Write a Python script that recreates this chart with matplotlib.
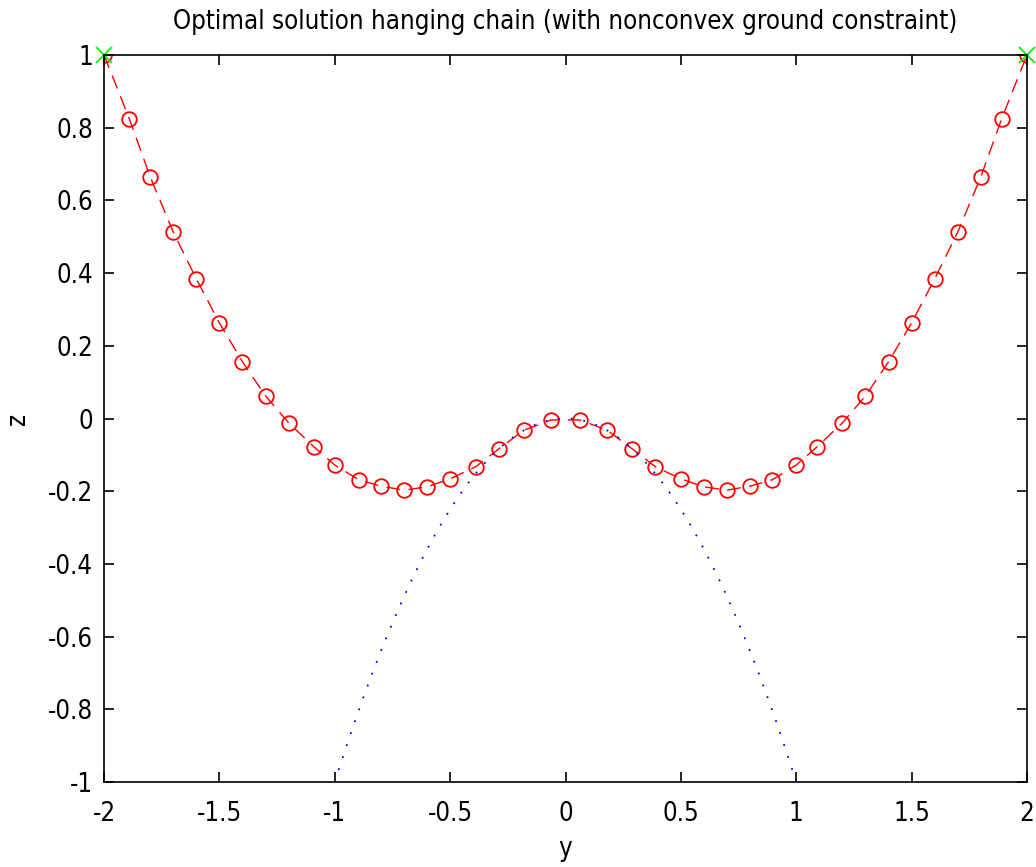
import matplotlib
matplotlib.use('Agg')
import matplotlib.pyplot as plt
import numpy as np

plt.rcParams['font.family'] = ['DejaVu Sans']
plt.rcParams['font.stretch'] = 'condensed'

# chain node positions, left half, mirrored for the right
y_left = [-2.0, -1.89, -1.80, -1.70, -1.60, -1.50, -1.40, -1.30, -1.20, -1.09,
          -1.00, -0.895, -0.80, -0.70, -0.60, -0.50, -0.39, -0.29, -0.18, -0.062]
z_left = [1.0, 0.824, 0.665, 0.513, 0.384, 0.263, 0.156, 0.062, -0.012, -0.078,
          -0.128, -0.169, -0.186, -0.197, -0.188, -0.166, -0.133, -0.084, -0.032, -0.004]
y_chain = y_left + [-v for v in reversed(y_left)]
z_chain = z_left + list(reversed(z_left))

# fixed end points
y_ends = [-2, 2]
z_ends = [1, 1]

# ground constraint z >= -y^2
y_ground = np.linspace(-1, 1, 101)
z_ground = -y_ground ** 2

xticks = [-2, -1.5, -1, -0.5, 0, 0.5, 1, 1.5, 2]
xtick_labels = ['-2', '-1.5', '-1', '-0.5', '0', '0.5', '1', '1.5', '2']
yticks = [-1, -0.8, -0.6, -0.4, -0.2, 0, 0.2, 0.4, 0.6, 0.8, 1]
ytick_labels = ['-1', '-0.8', '-0.6', '-0.4', '-0.2', '0', '0.2', '0.4', '0.6', '0.8', '1']

fig = plt.figure(figsize=(10.36, 8.67), dpi=100)
ax = fig.add_axes([0.1004, 0.098, 0.8909, 0.8386])

ax.plot(y_chain, z_chain, 'r--', lw=1.0, dashes=(10, 6))
ax.plot(y_chain, z_chain, 'o', mfc='none', mec='red', ms=10.5, mew=1.3)
ax.plot(y_ends, z_ends, 'x', color='#00ee00', ms=12, mew=1.2, clip_on=False)
ax.plot(y_ground, z_ground, ':', color='blue', lw=1.3, dashes=(1, 6))

ax.set_xlim(-2, 2)
ax.set_ylim(-1, 1)
ax.set_xticks(xticks)
ax.set_xticklabels(xtick_labels)
ax.set_yticks(yticks)
ax.set_yticklabels(ytick_labels)
ax.tick_params(direction='in', top=True, right=True, length=7, width=1.2,
               labelsize=18.5)
ax.tick_params(axis='x', pad=14)
ax.tick_params(axis='y', pad=8)
for s in ax.spines.values():
    s.set_linewidth(1.2)

ax.set_xlabel('y', fontsize=18.5, labelpad=6)
ax.set_ylabel('z', fontsize=18.5, labelpad=12)
ax.set_title('Optimal solution hanging chain (with nonconvex ground constraint)',
             fontsize=18.5, pad=19)

plt.savefig('out.png', dpi=100)
